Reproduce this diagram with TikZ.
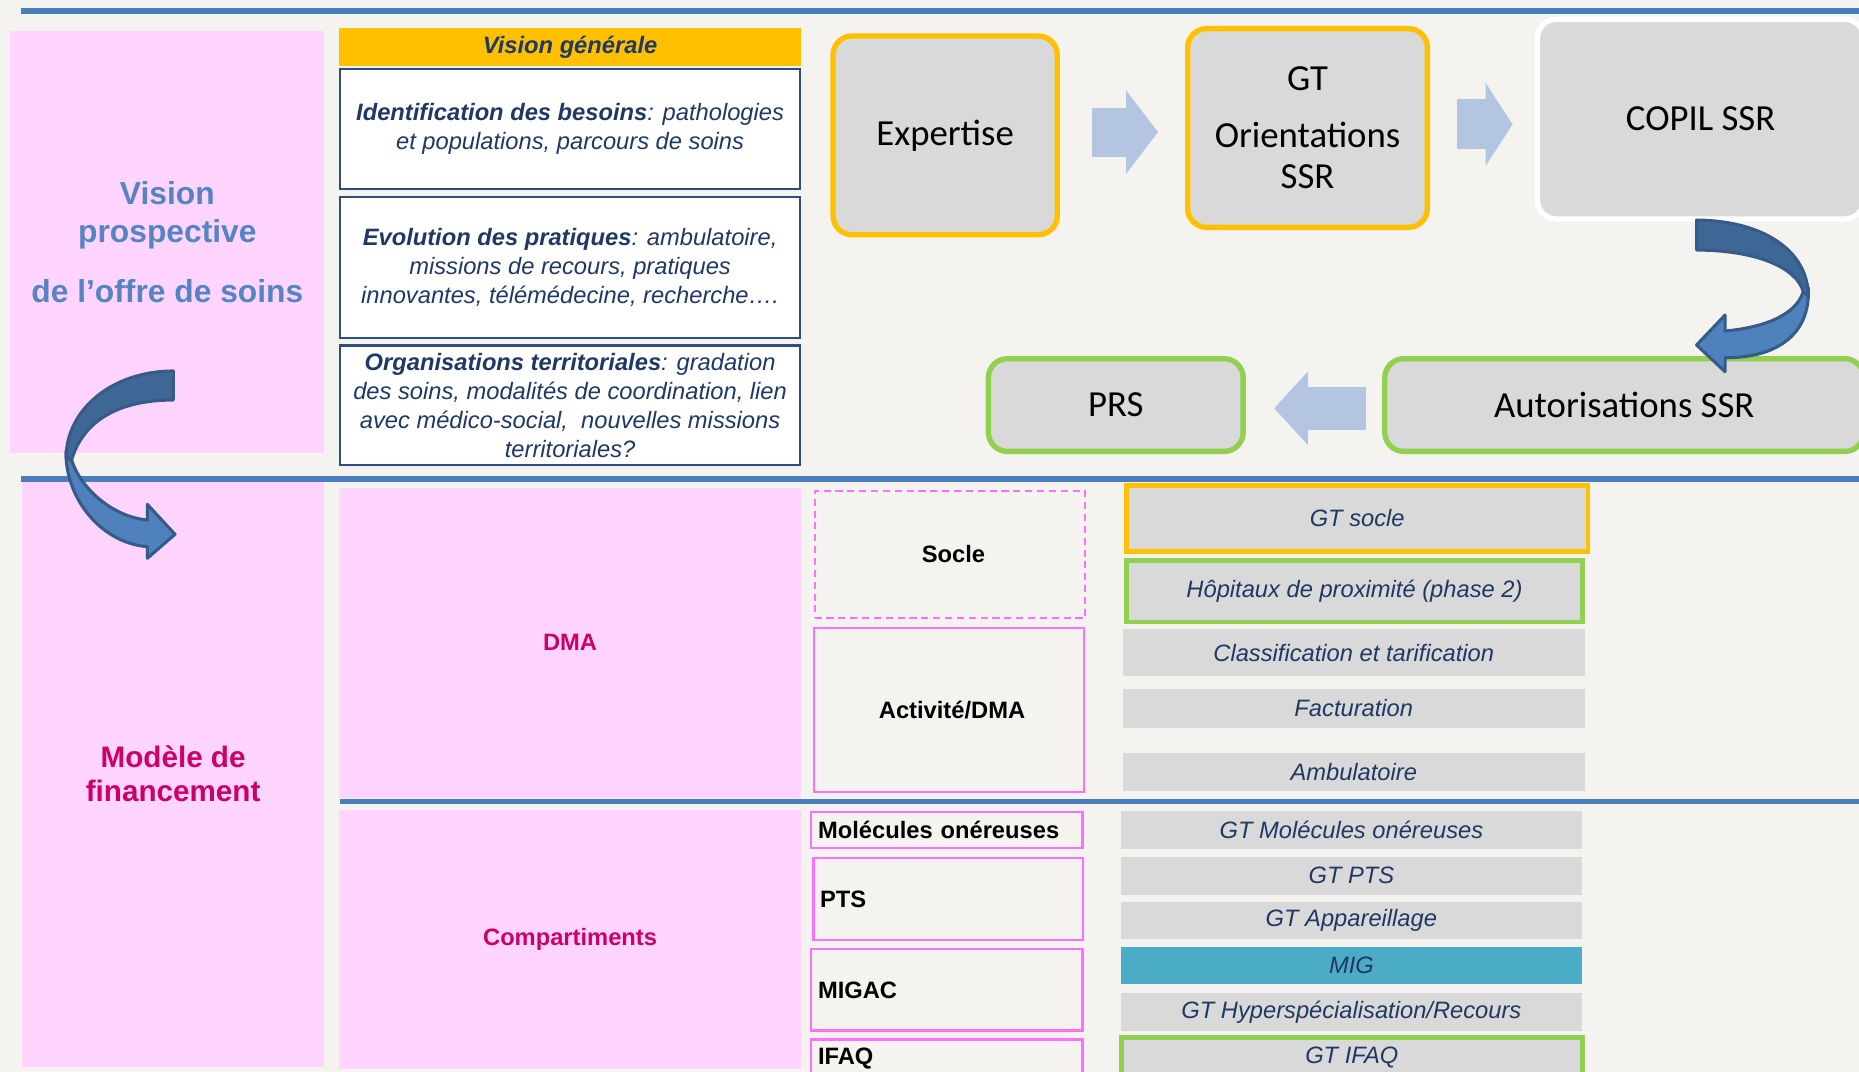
\documentclass[tikz,border=0pt]{standalone}
\usepackage{fontspec}
\setmainfont{Liberation Sans}
\newfontfamily\calib{Carlito}
\usetikzlibrary{arrows.meta}
\definecolor{bgc}{HTML}{F4F3EF}
\definecolor{pinkc}{HTML}{FFD4FF}
\definecolor{blinec}{HTML}{4A7EBB}
\definecolor{yellowc}{HTML}{FFC000}
\definecolor{orangec}{HTML}{FFC000}
\definecolor{greenc}{HTML}{92D050}
\definecolor{grayc}{HTML}{D9D9D9}
\definecolor{migc}{HTML}{4BACC6}
\definecolor{arrc}{HTML}{B3C5E1}
\definecolor{darkarr}{HTML}{3E6796}
\definecolor{lightarr}{HTML}{4F81BD}
\definecolor{arroutc}{HTML}{375B89}
\definecolor{navyt}{HTML}{1F3864}
\definecolor{vnavy}{HTML}{2F4E7D}
\definecolor{visblue}{HTML}{5584C3}
\definecolor{crimc}{HTML}{CC0066}
\definecolor{magc}{HTML}{FF6EFF}
\begin{document}
\begin{tikzpicture}[x=1pt,y=-1pt,
  pinkfill/.style={fill=pinkc, draw=none, inner sep=0pt, outer sep=0pt},
  vgbox/.style={draw=vnavy, line width=2pt, fill=white, inner sep=0pt, align=center, text=navyt, font=\fontsize{20}{24.5}\selectfont\itshape},
  flowbox/.style={fill=grayc, line width=4.5pt, rounded corners=16pt, inner sep=0pt, align=center, font=\calib\fontsize{31}{35}\selectfont},
  pinkbox/.style={draw=magc, line width=2pt, inner sep=0pt, align=center, font=\fontsize{20}{24}\selectfont\bfseries},
  pinkboxl/.style={pinkbox, align=left, inner xsep=5.7pt},
  gtbox/.style={fill=grayc, inner sep=0pt, minimum width=389.1pt, text=navyt, font=\fontsize{20}{24}\selectfont\itshape},
  blockarr/.style={draw=arrc, line cap=butt},
  sepline/.style={draw=blinec, line width=5pt},
  curvarr/.style={draw=arroutc, line width=2.6pt, line join=round}
]
\useasboundingbox (0,0) rectangle (1568,904);
\clip (0,0) rectangle (1568,904);
\fill[bgc] (0,0) rectangle (1568,904);

% pink areas
\node[pinkfill, minimum width=264.7pt, minimum height=355.7pt, text=visblue, align=center, font=\fontsize{26.8}{32.4}\selectfont\bfseries] (vp) at (141.15,204) {Vision\\prospective\\[18.2pt]de l’offre de soins};
\node[pinkfill, minimum width=255pt, minimum height=495.5pt, text=crimc, align=center, font=\fontsize{25}{28.6}\selectfont\bfseries] (mf) at (146,652.5) {Modèle de\\financement};
\node[pinkfill, minimum width=389.9pt, minimum height=261.6pt, text=crimc, font=\fontsize{20}{24}\selectfont\bfseries] (dma) at (480.85,542) {DMA};
\node[pinkfill, minimum width=389.9pt, minimum height=218.6pt, text=crimc, font=\fontsize{20}{24}\selectfont\bfseries] (comp) at (480.85,792.3) {Compartiments};

% separator lines
\draw[sepline] (17.6,9) -- (1568,9);
\draw[sepline] (17.6,403.85) -- (1568,403.85);
\draw[sepline] (286.7,676) -- (1568,676);

% vision generale
\node[fill=yellowc, minimum width=389.9pt, minimum height=31.5pt, inner sep=0pt, text=navyt, font=\fontsize{20}{24}\selectfont\bfseries\itshape] (vg) at (480.85,39.65) {\raisebox{-1.5pt}{Vision générale}};
\node[vgbox, minimum width=387.9pt, minimum height=101.2pt] (b1) at (480.85,108.7) {\raisebox{-2pt}{\textbf{Identification des besoins}: pathologies}\\\raisebox{-2pt}{et populations, parcours de soins}};
\node[vgbox, minimum width=387.9pt, minimum height=118.9pt] (b2) at (480.85,225.75) {\textbf{Evolution des pratiques}: ambulatoire,\\missions de recours, pratiques\\innovantes, télémédecine, recherche….};
\node[vgbox, minimum width=387.9pt, minimum height=100.7pt] (b3) at (480.85,341.75) {\textbf{Organisations territoriales}: gradation\\des soins, modalités de coordination, lien\\avec médico-social,~ nouvelles missions\\territoriales?};

% flow boxes
\node[flowbox, draw=orangec, minimum width=189.1pt, minimum height=167.6pt] (exp) at (797.2,114.15) {Expertise};
\node[flowbox, draw=orangec, minimum width=202.2pt, minimum height=167.6pt] (gto) at (1102.85,107.95) {GT\\[13pt]Orientations\\SSR};
\node[flowbox, draw=white, minimum width=275.25pt, minimum height=168.5pt] (copil) at (1434.4,100.5) {COPIL SSR};
\node[flowbox, draw=greenc, minimum width=403.95pt, minimum height=78.2pt] (aut) at (1370,341.65) {Autorisations SSR};
\node[flowbox, draw=greenc, minimum width=214.9pt, minimum height=78.2pt] (prs) at (941.1,341.65) {PRS};

% block arrows
\draw[blockarr, line width=41.3pt, -{Triangle[width=68.8pt,length=26.8pt]}] ([xshift=26.9pt,yshift=2.75pt]exp.east) -- ([xshift=-22.8pt,yshift=-3.45pt]gto.west);
\draw[blockarr, line width=42.2pt, -{Triangle[width=68.9pt,length=22.8pt]}] ([xshift=22.3pt,yshift=3.05pt]gto.east) -- ([xshift=-18.7pt,yshift=-4.4pt]copil.west);
\draw[blockarr, line width=36.6pt, -{Triangle[width=60.4pt,length=28.5pt]}] ([xshift=-13.6pt,yshift=-2.75pt]aut.west) -- ([xshift=23.9pt,yshift=-2.75pt]prs.east);

% lower left boxes
\node[pinkbox, line width=1.8pt, dash pattern=on 6pt off 4pt, minimum width=228.3pt, minimum height=107pt] (socle) at (801.25,467.7) {\hspace*{6pt}Socle};
\node[pinkbox, minimum width=228pt, minimum height=138.6pt] (act) at (800.5,598.8) {\hspace*{5pt}Activité/DMA};
\node[pinkboxl, minimum width=228.7pt, text width=217.3pt, minimum height=30.3pt] (mol) at (798.65,700.15) {Molécules onéreuses};
\node[pinkboxl, minimum width=227.6pt, text width=216.2pt, minimum height=69.2pt] (pts) at (799.8,758.4) {PTS};
\node[pinkboxl, minimum width=228.7pt, text width=217.3pt, minimum height=68.6pt] (migac) at (798.65,834.9) {MIGAC};
\node[pinkboxl, minimum width=228.7pt, text width=217.3pt, minimum height=32.3pt] (ifaq) at (798.65,892.85) {IFAQ};

% GT boxes
\node[gtbox, draw=orangec, line width=4pt, minimum height=55.3pt] (gts) at (1144.75,437.35) {GT socle};
\node[gtbox, draw=greenc, line width=4pt, minimum width=384.5pt, minimum height=51.7pt] (hop) at (1142.45,498.75) {Hôpitaux de proximité (phase 2)};
\node[gtbox, minimum width=389.7pt, minimum height=39.5pt] (cls) at (1141.85,550.55) {Classification et tarification};
\node[gtbox, minimum width=389.7pt, minimum height=33pt] (fac) at (1141.85,597.5) {Facturation};
\node[gtbox, minimum width=389.7pt, minimum height=32.1pt] (amb) at (1141.85,651.15) {Ambulatoire};
\node[gtbox, minimum height=32pt] (gmo) at (1139.85,700) {GT Molécules onéreuses};
\node[gtbox, minimum height=31.8pt] (gpts) at (1139.85,738.7) {GT PTS};
\node[gtbox, minimum height=31.7pt] (gapp) at (1139.85,776.55) {\raisebox{-1.5pt}{GT Appareillage}};
\node[gtbox, fill=migc, minimum height=31.7pt] (mig) at (1139.85,814.45) {MIG};
\node[gtbox, minimum height=31.7pt] (ghyp) at (1139.85,853.35) {GT Hyperspécialisation/Recours};
\node[gtbox, draw=greenc, line width=4pt, minimum width=389pt, minimum height=34pt] (gifaq) at (1140.2,892) {GT IFAQ};

% curved arrows
\filldraw[curvarr, fill=lightarr] (55.7,381) .. controls (55,420) and (85,458) .. (124.3,461.1) -- (124.3,470.9) -- (147.6,450.7) -- (124.3,425.4) -- (124.3,438.6) .. controls (95,436) and (68,412) .. (60.4,388) -- cycle;
\filldraw[curvarr, fill=darkarr] (146.2,312.9) .. controls (95,313) and (56,345) .. (55.7,386) -- (60.4,388) .. controls (70,355) and (100,337.4) .. (146.2,337.4) -- cycle;

\filldraw[curvarr, fill=lightarr] (1525.3,243) .. controls (1527,285) and (1495,302) .. (1455,301.7) -- (1455,313.5) -- (1431,291) -- (1455,265.7) -- (1455,279.2) .. controls (1490,276) and (1515,265) .. (1521,246) -- cycle;
\filldraw[curvarr, fill=darkarr] (1431,185.6) .. controls (1485,186) and (1525,210) .. (1525.3,250) -- (1521,246) .. controls (1515,225) and (1480,211) .. (1431,210.9) -- cycle;
\end{tikzpicture}
\end{document}
